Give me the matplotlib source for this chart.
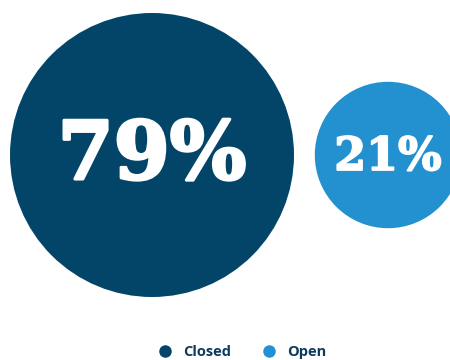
import numpy as np
import matplotlib.pyplot as plt
import matplotlib.patheffects as pe
from matplotlib.patches import Circle
from matplotlib.lines import Line2D

# Share of tickets by status
categories = ["Closed", "Open"]
shares = [79, 21]
colors = ["#034569", "#2391d0"]

# Bubble layout (pixel space); area is proportional to the share
centers_x = [152, 388]
center_y = 155
max_radius = 142
label_sizes = [58, 33]
label_stroke = [2.2, 1.3]

fig = plt.figure(figsize=(4.5, 3.6), dpi=100)
ax = fig.add_axes([0, 0, 1, 1])
ax.set_xlim(0, 450)
ax.set_ylim(360, 0)
ax.set_aspect("equal")
ax.axis("off")

for name, value, color, cx, size, sw in zip(categories, shares, colors,
                                            centers_x, label_sizes, label_stroke):
    radius = max_radius * np.sqrt(value / max(shares))
    ax.add_patch(Circle((cx, center_y), radius, facecolor=color, edgecolor="none"))
    ax.text(cx, center_y + 2, f"{value}%", color="white", ha="center", va="center",
            fontsize=size, fontweight="bold", family="DejaVu Serif",
            path_effects=[pe.withStroke(linewidth=sw, foreground="white")])

handles = [
    Line2D([], [], marker="o", linestyle="none", markersize=9,
           markerfacecolor=c, markeredgecolor="none", label=n)
    for n, c in zip(categories, colors)
]
leg = fig.legend(handles=handles, loc="center", bbox_to_anchor=(0.530, 0.022),
                 ncol=2, frameon=False, handletextpad=0.25, columnspacing=1.6,
                 prop={"family": "Open Sans", "weight": "bold", "size": 10.5})
for t in leg.get_texts():
    t.set_color("#0d3b5e")

fig.savefig("out.png", dpi=100)
plt.close(fig)
